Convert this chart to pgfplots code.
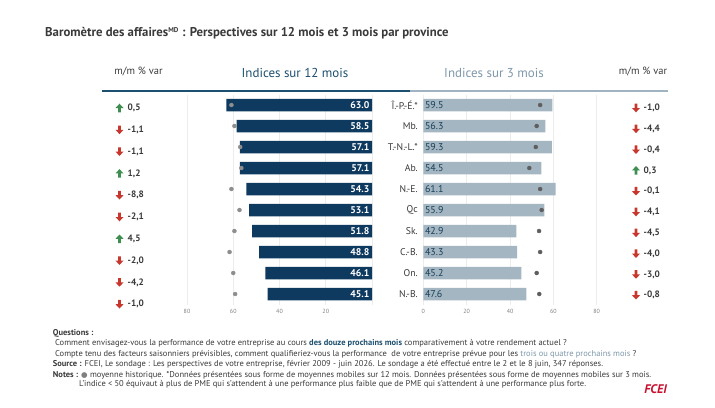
\documentclass[border=0pt]{standalone}
\usepackage{fontspec}
\setmainfont{PT Sans}
\newfontfamily\dejavu{DejaVu Sans}
\usepackage{pgfplots}
\pgfplotsset{compat=1.18}
\definecolor{navy}{HTML}{0F3A5F}
\definecolor{lightbar}{HTML}{A5B6C3}
\definecolor{dotL}{HTML}{8E8E8E}
\definecolor{dotR}{HTML}{5E5E5E}
\definecolor{headA}{HTML}{1D4F6E}
\definecolor{headB}{HTML}{7F98AA}
\definecolor{lineB}{HTML}{9FB3C1}
\definecolor{arrgreen}{HTML}{3E8E50}
\definecolor{arrred}{HTML}{C8372D}
\definecolor{txt}{HTML}{3A3A3A}
\definecolor{gridc}{HTML}{ECECEC}
\definecolor{tickc}{HTML}{808080}
\definecolor{fcei}{HTML}{C8102E}
\newcommand{\fsz}[1]{\fontsize{#1}{#1}\selectfont}
\tikzset{
 uparr/.pic={\fill[arrgreen] (-1.4bp,-4.3bp) -- (1.4bp,-4.3bp) -- (1.4bp,0bp) -- (4bp,0bp) -- (0bp,4.3bp) -- (-4bp,0bp) -- (-1.4bp,0bp) -- cycle;},
 dnarr/.pic={\fill[arrred] (-1.4bp,4.3bp) -- (1.4bp,4.3bp) -- (1.4bp,0bp) -- (4bp,0bp) -- (0bp,-4.3bp) -- (-4bp,0bp) -- (-1.4bp,0bp) -- cycle;},
}
\pgfplotsset{
 halfaxis/.style={
  scale only axis, height=210bp,
  xmin=0, xmax=80, ymin=0.5, ymax=10.5, y dir=reverse,
  axis line style={draw=none}, tick style={draw=none}, major tick length=0,
  xmajorgrids, grid style={gridc, line width=0.6bp},
  xticklabel style={font=\fsz{6}, text=tickc, yshift=-1bp},
  /pgf/number format/assume math mode=true,
  clip=false,
 }
}
\begin{document}
\begin{tikzpicture}[x=1bp, y=-1bp]
\fill[white] (0,0) rectangle (715,407);
% title
\node[anchor=west, inner sep=0, text=txt, font=\fsz{12.8}\bfseries] at (45,33)
 {Baromètre des affaires\textsuperscript{\fsz{7}MD} : Perspectives sur 12 mois et 3 mois par province};
% headers
\node[text=txt, font=\fsz{10.5}] at (138.5,71) {m/m \% var};
\node[text=txt, font=\fsz{10.5}] at (643,71) {m/m \% var};
\node[text=headA, font=\fsz{13}] at (295,73) {Indices sur 12 mois};
\node[text=headB, font=\fsz{13}] at (494,73) {Indices sur 3 mois};
\draw[lineB, line width=1.6bp] (410,90.7) -- (668,90.7);
\draw[headA, line width=1.8bp] (102,90.7) -- (410,90.7);

% left axis: 12-month indices
\begin{axis}[halfaxis, at={(187bp,-304.5bp)}, anchor=south west, width=185bp,
  x dir=reverse, xtick={0,20,40,60,80}, xticklabels={,20,40,60,80}, ytick=\empty]
\addplot[xbar, bar width=12.5bp, fill=navy, draw=none] coordinates {
 (63.0,1) (58.5,2) (57.1,3) (57.1,4) (54.3,5) (53.1,6) (51.8,7) (48.8,8) (46.1,9) (45.1,10)};
\addplot[only marks, mark=*, mark size=2bp, dotL, mark options={draw=none, fill=dotL}] coordinates {
 (60.8,1) (59.5,2) (57.0,3) (56.5,4) (60.8,5) (57.3,6) (59.5,7) (61.6,8) (60.0,9) (59.2,10)};
\addplot[draw=none, mark=none, nodes near coords, point meta=explicit symbolic,
  every node near coord/.append style={anchor=east, text=white, font=\fsz{9.8}\bfseries, inner sep=2.5bp}]
 coordinates {(0,1) [63.0] (0,2) [58.5] (0,3) [57.1] (0,4) [57.1] (0,5) [54.3]
  (0,6) [53.1] (0,7) [51.8] (0,8) [48.8] (0,9) [46.1] (0,10) [45.1]};
\end{axis}

% right axis: 3-month indices
\begin{axis}[halfaxis, at={(423.3bp,-304.5bp)}, anchor=south west, width=173.4bp,
  xtick={0,20,40,60,80}, ytick={1,...,10},
  yticklabels={Î.-P.-É.*, Mb., T.-N.-L.*, Ab., N.-E., Qc, Sk., C.-B., On., N.-B.},
  yticklabel style={font=\fsz{9.8}, text=txt, anchor=east, xshift=-2bp}]
\addplot[xbar, bar width=12.5bp, fill=lightbar, draw=none] coordinates {
 (59.5,1) (56.3,2) (59.3,3) (54.5,4) (61.1,5) (55.9,6) (42.9,7) (43.3,8) (45.2,9) (47.6,10)};
\addplot[only marks, mark=*, mark size=2bp, dotR, mark options={draw=none, fill=dotR}] coordinates {
 (53.9,1) (52.3,2) (51.9,3) (48.9,4) (53.9,5) (54.6,6) (53.4,7) (53.9,8) (52.3,9) (53.5,10)};
\addplot[draw=none, mark=none, nodes near coords, point meta=explicit symbolic,
  every node near coord/.append style={anchor=west, text=headA!80!black, font=\fsz{10}, inner sep=1.5bp}]
 coordinates {(0,1) [59.5] (0,2) [56.3] (0,3) [59.3] (0,4) [54.5] (0,5) [61.1]
  (0,6) [55.9] (0,7) [42.9] (0,8) [43.3] (0,9) [45.2] (0,10) [47.6]};
\end{axis}

% m/m % var, left (12 months)
\foreach \v/\d [count=\i from 0] in {0{,}5/u, -1{,}1/d, -1{,}1/d, 1{,}2/u, -8{,}8/d, -2{,}1/d, 4{,}5/u, -2{,}0/d, -4{,}2/d, -1{,}0/d}{
  \pgfmathsetmacro{\yy}{108+21.8*\i}
  \if u\d \pic at (119.5,\yy) {uparr};\else \pic at (119.5,\yy) {dnarr};\fi
  \node[anchor=west, inner sep=0, text=txt, font=\fsz{9.3}\bfseries] at (127.5,\yy) {\v};
}
% m/m % var, right (3 months)
\foreach \v/\d [count=\i from 0] in {-1{,}0/d, -4{,}4/d, -0{,}4/d, 0{,}3/u, -0{,}1/d, -4{,}1/d, -4{,}5/d, -4{,}0/d, -3{,}0/d, -0{,}8/d}{
  \pgfmathsetmacro{\yy}{108+20.8*\i}
  \if u\d \pic at (636,\yy) {uparr};\else \pic at (636,\yy) {dnarr};\fi
  \node[anchor=west, inner sep=0, text=txt, font=\fsz{9.3}\bfseries] at (643.5,\yy) {\v};
}

% footnotes
\begin{scope}[every node/.style={anchor=west, inner sep=0, text=txt, font=\fsz{8.5}}]
\node at (52.7,333) {\bfseries Questions :};
\node at (55,343.5) {Comment envisagez-vous la performance de votre entreprise au cours \textcolor{headA}{\bfseries des douze prochains mois} comparativement à votre rendement actuel ?};
\node at (55,354) {Compte tenu des facteurs saisonniers prévisibles, comment qualifieriez-vous la performance\ \ de votre entreprise prévue pour les \textcolor{headB}{trois ou quatre prochains mois} ?};
\node at (52.7,364.5) {\textbf{Source :} FCEI, Le sondage : Les perspectives de votre entreprise, février 2009 - juin 2026. Le sondage a été effectué entre le 2 et le 8 juin, 347 réponses.};
\node at (52.7,375) {\textbf{Notes :} {\dejavu\fsz{7.5}\textcolor{tickc}{●}} moyenne historique. *Données présentées sous forme de moyennes mobiles sur 12 mois. Données présentées sous forme de moyennes mobiles sur 3 mois.};
\node at (79,384.5) {L'indice < 50 équivaut à plus de PME qui s'attendent à une performance plus faible que de PME qui s'attendent à une performance plus forte.};
\end{scope}
\node[anchor=center, inner sep=0, text=fcei, font=\fsz{12.5}\bfseries\itshape] at (655.5,389) {FCEI};
\end{tikzpicture}
\end{document}
